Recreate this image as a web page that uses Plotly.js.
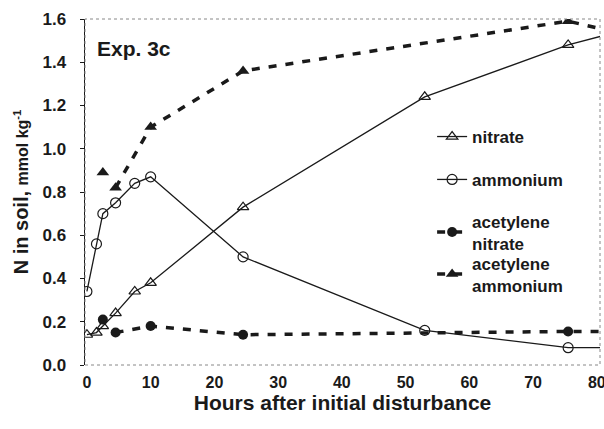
<!DOCTYPE html>
<html><head><meta charset="utf-8">
<script src="https://cdn.plot.ly/plotly-3.0.1.min.js"></script>
<style>body{margin:0;background:#fff}#c{width:604px;height:429px}</style>
</head><body><div id="c"></div>
<script>
// Hours after disturbance (96 h sample lies beyond the visible range)
const hours = [0, 1.5, 2.5, 4.5, 7.5, 10, 24.5, 53, 75.5, 96];
const nitrate = [0.14, 0.15, 0.18, 0.24, 0.34, 0.38, 0.73, 1.24, 1.48, 1.64];
const ammonium = [0.34, 0.56, 0.70, 0.75, 0.84, 0.87, 0.50, 0.16, 0.08, 0.08];

const acetHours = [2.5, 4.5, 10, 24.5, 75.5, 96];
const acetNitrate = [0.21, 0.15, 0.18, 0.14, 0.155, 0.155];
const acetAmmonium = [0.89, 0.82, 1.10, 1.36, 1.59, 1.45];

const xTicks = [0, 10, 20, 30, 40, 50, 60, 70, 80];
const yTicks = [0.0, 0.2, 0.4, 0.6, 0.8, 1.0, 1.2, 1.4, 1.6];

const ink = '#1a1a1a';
const solid = {color: ink, width: 1.3};
const dashed = {color: ink, width: 3.5, dash: '8px,9px'};

const traces = [
  {x: hours, y: nitrate, name: 'nitrate', mode: 'lines+markers', legend: 'legend',
   line: solid, marker: {symbol: 'triangle-up-open', size: 10, color: ink, line: {width: 1.2, color: ink}}},
  {x: hours, y: ammonium, name: 'ammonium', mode: 'lines+markers', legend: 'legend2',
   line: solid, marker: {symbol: 'circle-open', size: 10, color: ink, line: {width: 1.2, color: ink}}},
  {x: acetHours.slice(1), y: acetNitrate.slice(1), name: 'acetylene<br>nitrate', mode: 'lines+markers', legend: 'legend3',
   line: dashed, marker: {symbol: 'circle', size: 10, color: ink}},
  {x: acetHours.slice(0, 1), y: acetNitrate.slice(0, 1), mode: 'markers', showlegend: false,
   marker: {symbol: 'circle', size: 10, color: ink}},
  {x: acetHours.slice(1), y: acetAmmonium.slice(1), name: 'acetylene<br>ammonium', mode: 'lines+markers', legend: 'legend4',
   line: dashed, marker: {symbol: 'triangle-up', size: 11, color: ink}},
  {x: acetHours.slice(0, 1), y: acetAmmonium.slice(0, 1), mode: 'markers', showlegend: false,
   marker: {symbol: 'triangle-up', size: 11, color: ink}}
];

const font = 'Arial, "Liberation Sans", sans-serif';
const legFont = {size: 17, family: font, color: ink, weight: 'bold'};
function leg(y) {
  return {x: 0.674, y: y, xanchor: 'left', yanchor: 'middle', bgcolor: 'rgba(0,0,0,0)',
    font: legFont, itemwidth: 30, borderwidth: 0};
}
const layout = {
  width: 604, height: 429,
  margin: {l: 85, r: 4, t: 19, b: 64},
  paper_bgcolor: '#fff', plot_bgcolor: '#fff',
  font: {family: font, color: ink},
  showlegend: true,
  legend: leg(0.659), legend2: leg(0.535), legend3: leg(0.383), legend4: leg(0.262),
  xaxis: {range: [-0.3, 80.5], tickvals: xTicks, ticktext: xTicks.map(String), showgrid: false, zeroline: false,
    showline: false, ticks: '', ticklabelstandoff: 6, ticklabeloverflow: 'allow',
    tickfont: {size: 16, family: font, weight: 'bold', color: ink},
    title: {text: 'Hours after initial disturbance', font: {size: 21, family: font, weight: 'bold', color: ink}, standoff: 4}},
  yaxis: {range: [0, 1.6], tickvals: yTicks, ticktext: yTicks.map(v => v.toFixed(1)), showgrid: false, zeroline: false,
    showline: true, linecolor: ink, linewidth: 1.5, ticks: 'outside', ticklen: 4, tickcolor: ink, ticklabelstandoff: 10,
    tickfont: {size: 17, family: font, weight: 'bold', color: ink},
    title: {text: 'N in soil, <span style="font-size:16px">mmol kg<sup>-1</sup></span>', font: {size: 20, family: font, weight: 'bold', color: ink}, standoff: 8}},
  shapes: [{type: 'rect', xref: 'paper', yref: 'paper', x0: 0, x1: 1, y0: 0, y1: 1,
    line: {color: '#888', width: 1, dash: 'dot'}}],
  annotations: [{text: 'Exp. 3c', xref: 'paper', yref: 'paper', x: 0.02, y: 0.915, xanchor: 'left', yanchor: 'middle',
    showarrow: false, font: {size: 21, family: font, weight: 'bold', color: ink}}]
};
Plotly.newPlot('c', traces, layout, {displayModeBar: false, staticPlot: true});
</script></body></html>
